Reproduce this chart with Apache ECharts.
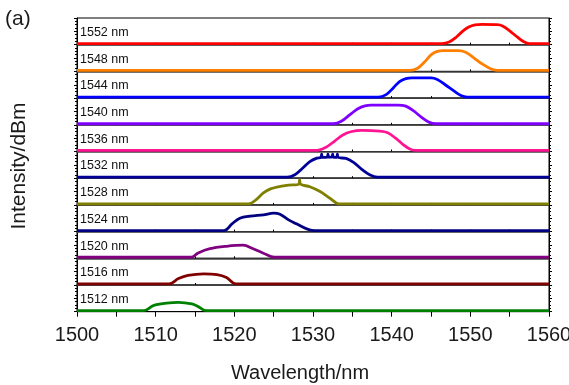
<!DOCTYPE html>
<html>
<head>
<meta charset="utf-8">
<script src="https://cdn.jsdelivr.net/npm/echarts@6/dist/echarts.min.js"></script>
<style>
  html, body { margin: 0; padding: 0; background: #fff; }
  #chart { width: 569px; height: 385px; }
</style>
</head>
<body>
<div id="chart"></div>
<script>
// Filter output spectra, one panel per centre wavelength (top to bottom).
// Values are [wavelength nm, relative level in panel units].
const labels = ['1552 nm', '1548 nm', '1544 nm', '1540 nm', '1536 nm', '1532 nm',
                '1528 nm', '1524 nm', '1520 nm', '1516 nm', '1512 nm'];
const colors = ['#ff0000', '#ff8000', '#0000ff', '#8000ff', '#ff1493', '#000099',
                '#808000', '#000080', '#800080', '#800000', '#008000'];
const xTicks = [1500, 1510, 1520, 1530, 1540, 1550, 1560];

const s1552 = [[1500,0.04],[1546.4,0.04],[1547.3,0.10],[1548.2,0.28],[1549.0,0.50],[1549.8,0.66],[1550.6,0.74],[1551.5,0.76],[1553.4,0.75],[1554.1,0.70],[1555.0,0.52],[1556.0,0.28],[1556.8,0.11],[1557.5,0.04],[1560,0.04]];
const s1548 = [[1500,0.04],[1542.3,0.04],[1543.3,0.12],[1544.2,0.36],[1545.0,0.62],[1545.8,0.75],[1546.6,0.78],[1548.5,0.78],[1549.4,0.72],[1550.4,0.52],[1551.5,0.28],[1552.5,0.11],[1553.4,0.04],[1560,0.04]];
const s1544 = [[1500,0.04],[1538.3,0.04],[1539.3,0.13],[1540.2,0.38],[1541.0,0.62],[1541.8,0.73],[1542.6,0.76],[1545.0,0.76],[1545.8,0.70],[1546.8,0.50],[1548.0,0.25],[1548.8,0.10],[1549.6,0.04],[1560,0.04]];
const s1540 = [[1500,0.04],[1532.6,0.04],[1533.6,0.13],[1534.7,0.38],[1535.7,0.60],[1536.6,0.71],[1537.4,0.74],[1540.8,0.74],[1541.8,0.70],[1542.8,0.52],[1543.8,0.28],[1544.8,0.09],[1545.6,0.04],[1560,0.04]];
const s1536 = [[1500,0.04],[1530.5,0.04],[1531.6,0.15],[1532.8,0.40],[1533.8,0.62],[1534.8,0.74],[1536.2,0.79],[1538.5,0.76],[1539.5,0.70],[1540.5,0.50],[1541.5,0.25],[1542.3,0.09],[1543.0,0.04],[1560,0.04]];
const s1532 = [[1500,0.04],[1526.7,0.04],[1527.7,0.13],[1528.7,0.38],[1529.6,0.62],[1530.5,0.75],[1531.0,0.78],[1531.1,0.90],[1531.2,0.78],[1531.8,0.79],[1531.9,0.90],[1532.0,0.79],[1532.4,0.79],[1532.5,0.90],[1532.6,0.79],[1533.0,0.78],[1533.1,0.90],[1533.2,0.78],[1534.2,0.74],[1535.2,0.58],[1536.2,0.33],[1537.2,0.13],[1538.2,0.04],[1560,0.04]];
const s1528 = [[1500,0.04],[1521.8,0.04],[1522.7,0.18],[1523.7,0.45],[1524.6,0.60],[1525.4,0.67],[1526.9,0.74],[1528.2,0.78],[1528.3,0.95],[1528.4,0.78],[1529.6,0.68],[1530.9,0.50],[1532.2,0.24],[1533.3,0.04],[1560,0.04]];
const s1524 = [[1500,0.04],[1518.7,0.04],[1519.7,0.29],[1520.7,0.50],[1522.0,0.58],[1523.7,0.63],[1525.0,0.69],[1525.8,0.65],[1526.9,0.44],[1527.9,0.29],[1529.2,0.10],[1530.1,0.04],[1560,0.04]];
const s1520 = [[1500,0.04],[1514.5,0.04],[1515.4,0.20],[1516.9,0.36],[1519.0,0.45],[1521.1,0.49],[1522.4,0.36],[1523.7,0.19],[1525.1,0.04],[1560,0.04]];
const s1516 = [[1500,0.04],[1511.7,0.04],[1512.9,0.24],[1514.1,0.36],[1516.1,0.42],[1517.8,0.39],[1519.0,0.28],[1520.2,0.04],[1560,0.04]];
const s1512 = [[1500,0.04],[1508.5,0.04],[1509.7,0.23],[1511.4,0.32],[1512.9,0.35],[1514.6,0.29],[1515.4,0.19],[1516.4,0.04],[1560,0.04]];

const spectra = [s1552, s1548, s1544, s1540, s1536, s1532, s1528, s1524, s1520, s1516, s1512];

// Panel layout
const FONT = 'Liberation Sans, Arial, sans-serif';
const plotLeft = 77, plotRight = 20, plotTop = 18, panelH = 26.7;
const nPanels = spectra.length;
const lastIdx = nPanels - 1;

const grids = [], xAxes = [], yAxes = [], series = [], graphics = [];

spectra.forEach((data, i) => {
  const top = plotTop + i * panelH;
  const isLast = i === lastIdx;
  grids.push({
    left: plotLeft, right: plotRight, top: top, height: panelH,
    containLabel: false, outerBoundsMode: 'none',
    show: true, borderColor: '#000', borderWidth: 1, backgroundColor: 'transparent'
  });
  xAxes.push({
    type: 'value', gridIndex: i, min: xTicks[0], max: xTicks[xTicks.length - 1], interval: 10,
    axisLine: { show: true, onZero: false, lineStyle: { color: isLast ? '#000' : '#444', width: isLast ? 1 : 1.5 } },
    axisTick: { show: true, inside: !isLast, length: isLast ? 5 : 2, lineStyle: { color: '#000' } },
    minorTick: { show: true, splitNumber: 2, length: isLast ? 5 : 2, lineStyle: { color: '#000' } },
    splitLine: { show: false },
    axisLabel: {
      show: isLast, margin: 14, fontSize: 20, color: '#1a1a1a', fontFamily: FONT,
      hideOverlap: false, showMaxLabel: true, showMinLabel: true,
      formatter: v => xTicks.includes(v) ? String(v) : ''
    }
  });
  yAxes.push({
    type: 'value', gridIndex: i, min: 0, max: 1, interval: 0.5, position: 'left',
    axisLine: { show: true, lineStyle: { color: '#000', width: 1 } },
    axisTick: { show: true, length: 3, lineStyle: { color: '#000' } },
    minorTick: { show: true, splitNumber: 4, length: 2, lineStyle: { color: '#000' } },
    splitLine: { show: false },
    axisLabel: { show: false }
  });
  yAxes.push({
    type: 'value', gridIndex: i, min: 0, max: 1, interval: 0.5, position: 'right',
    axisLine: { show: true, lineStyle: { color: '#000', width: 1 } },
    axisTick: { show: true, length: 3, lineStyle: { color: '#000' } },
    minorTick: { show: true, splitNumber: 4, length: 2, lineStyle: { color: '#000' } },
    splitLine: { show: false },
    axisLabel: { show: false }
  });
  series.push({
    name: labels[i], type: 'line', xAxisIndex: i, yAxisIndex: 2 * i,
    data: data, showSymbol: false, smooth: 0.35, clip: false,
    lineStyle: { color: colors[i], width: 2.8 },
    itemStyle: { color: colors[i] },
    z: 5
  });
  graphics.push({
    type: 'text', left: 80, top: top + 8,
    style: { text: labels[i], fontSize: 12.5, fill: '#111', fontFamily: FONT }
  });
});

graphics.push({
  type: 'text', left: 5, top: 9,
  style: { text: '(a)', fontSize: 21, fill: '#1a1a1a', fontFamily: FONT }
});
graphics.push({
  type: 'text', x: 19, y: 166, rotation: Math.PI / 2,
  style: { text: 'Intensity/dBm', fontSize: 21, fill: '#1a1a1a', fontFamily: FONT,
           textAlign: 'center', textVerticalAlign: 'middle' }
});
graphics.push({
  type: 'text', x: 300, y: 373,
  style: { text: 'Wavelength/nm', fontSize: 20, fill: '#1a1a1a', fontFamily: FONT,
           textAlign: 'center', textVerticalAlign: 'middle' }
});

const chart = echarts.init(document.getElementById('chart'), null, { renderer: 'canvas' });
chart.setOption({
  animation: false,
  backgroundColor: '#fff',
  grid: grids,
  xAxis: xAxes,
  yAxis: yAxes,
  series: series,
  graphic: graphics
});
</script>
</body>
</html>
